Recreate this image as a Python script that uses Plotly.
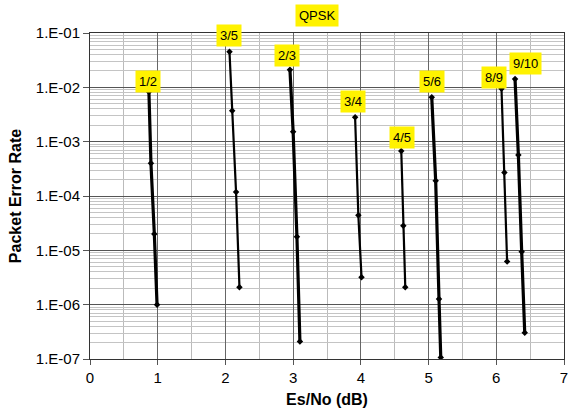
import plotly.graph_objects as go

# ---- data ----
rates = ["1/2", "3/5", "2/3", "3/4", "4/5", "5/6", "8/9", "9/10"]
x_1_2 = [0.87, 0.90, 0.95, 0.99]
y_1_2 = [8.3e-3, 4.0e-4, 2.0e-5, 1.0e-6]
x_3_5 = [2.06, 2.10, 2.157, 2.207]
y_3_5 = [4.5e-2, 3.7e-3, 1.18e-4, 2.1e-6]
x_2_3 = [2.953, 3.00, 3.056, 3.10]
y_2_3 = [2.1e-2, 1.52e-3, 1.78e-5, 2.1e-7]
x_3_4 = [3.915, 3.963, 4.01]
y_3_4 = [2.8e-3, 4.4e-5, 3.2e-6]
x_4_5 = [4.597, 4.627, 4.656]
y_4_5 = [6.7e-4, 2.84e-5, 2.1e-6]
x_5_6 = [5.047, 5.105, 5.154, 5.18]
y_5_6 = [6.6e-3, 1.9e-4, 1.27e-6, 1.07e-7]
x_8_9 = [6.077, 6.12, 6.16]
y_8_9 = [9.4e-3, 2.7e-4, 6.2e-6]
x_9_10 = [6.277, 6.326, 6.375, 6.42]
y_9_10 = [1.42e-2, 5.7e-4, 9.4e-6, 3.05e-7]

series_x = [x_1_2, x_3_5, x_2_3, x_3_4, x_4_5, x_5_6, x_8_9, x_9_10]
series_y = [y_1_2, y_3_5, y_2_3, y_3_4, y_4_5, y_5_6, y_8_9, y_9_10]

y_tick_vals = [1e-7, 1e-6, 1e-5, 1e-4, 1e-3, 1e-2, 1e-1]
y_tick_text = ["1.E-07", "1.E-06", "1.E-05", "1.E-04", "1.E-03", "1.E-02", "1.E-01"]
x_tick_vals = [0, 1, 2, 3, 4, 5, 6, 7]

# ---- styles / label placement ----
line_widths = [3.2, 2.2, 3.2, 2.2, 2.2, 3.2, 2.2, 3.2]
label_pos = [(0.85, -1.90), (2.06, -1.046), (2.914, -1.423), (3.88, -2.26),
             (4.612, -2.93), (5.05, -1.90), (5.97, -1.81), (6.43, -1.56)]

FONT = "Arial, Liberation Sans, Helvetica, sans-serif"
YELLOW = "#FFF200"

fig = go.Figure()
for name, xs, ys, w in zip(rates, series_x, series_y, line_widths):
    fig.add_trace(go.Scatter(
        x=xs, y=ys, mode="lines+markers", name=name,
        line=dict(color="black", width=w),
        marker=dict(symbol="diamond", size=5, color="black"),
        showlegend=False,
    ))

minor_y = [m * 10.0 ** e for e in range(-7, -1) for m in range(2, 10)]

for name, (lx, ly) in zip(rates, label_pos):
    fig.add_annotation(
        x=lx, y=ly, xref="x", yref="y", text=name, showarrow=False,
        font=dict(family=FONT, size=13, color="black"),
        bgcolor=YELLOW, borderpad=3,
    )

fig.add_annotation(
    x=3.35, y=1 + (33 - 15) / 326.0, xref="x", yref="paper", yanchor="middle",
    text="QPSK", showarrow=False,
    font=dict(family=FONT, size=13, color="black"),
    bgcolor=YELLOW, borderpad=3,
)

fig.update_layout(
    width=573, height=416,
    margin=dict(l=90, r=5, t=33, b=57),
    paper_bgcolor="white", plot_bgcolor="white",
    font=dict(family=FONT, size=15, color="black"),
    xaxis=dict(
        range=[0, 7], tickvals=x_tick_vals, ticks="outside", ticklen=5,
        tickcolor="#555", showline=True, linecolor="#333", linewidth=1, mirror=True,
        showgrid=True, gridcolor="#666", gridwidth=1, zeroline=False,
        minor=dict(dtick=0.5, showgrid=True, gridcolor="#bbbbbb", ticks=""),
        tickfont=dict(size=15),
        title=dict(text="<b>Es/No (dB)</b>", font=dict(size=16), standoff=8),
    ),
    yaxis=dict(
        type="log", range=[-7, -1], tickvals=y_tick_vals, ticktext=y_tick_text,
        ticks="outside", ticklen=6, tickcolor="#555",
        showline=True, linecolor="#333", linewidth=1, mirror=True,
        showgrid=True, gridcolor="#555", gridwidth=1, zeroline=False,
        minor=dict(tickvals=minor_y, showgrid=True, gridcolor="#c4c4c4", ticks=""),
        tickfont=dict(size=15),
        title=dict(text="<b>Packet Error Rate</b>", font=dict(size=16), standoff=10),
    ),
)

fig.write_html("out.html")
